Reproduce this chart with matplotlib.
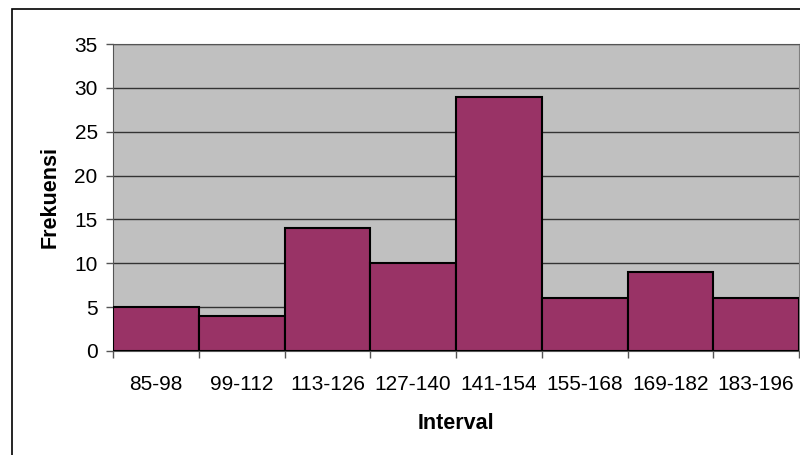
import matplotlib.pyplot as plt
from matplotlib.patches import Rectangle

plt.rcParams['font.family'] = ['Liberation Sans', 'DejaVu Sans']

# frequency table
intervals = ["85-98", "99-112", "113-126", "127-140", "141-154", "155-168", "169-182", "183-196"]
frekuensi = [5, 4, 14, 10, 29, 6, 9, 6]

fig = plt.figure(figsize=(8, 4.55), dpi=100)
ax = fig.add_axes([113 / 800, 104 / 455, 686 / 800, 307 / 455])
ax.set_facecolor("#C0C0C0")

x = range(len(intervals))
ax.bar(x, frekuensi, width=1.0, color="#993366", edgecolor="black", linewidth=1.5, zorder=3)

ax.set_xlim(-0.5, len(intervals) - 0.5)
ax.set_ylim(0, 35)
ax.set_yticks(range(0, 36, 5))
ax.yaxis.grid(True, color="#333333", linewidth=1.0, zorder=1)
ax.set_axisbelow(True)

# x ticks sit on the bin boundaries, labels in the middle of each bin
ax.set_xticks([i - 0.5 for i in range(len(intervals) + 1)])
ax.set_xticklabels([])
ax.set_xticks(list(x), minor=True)
ax.set_xticklabels(intervals, minor=True)
ax.tick_params(axis="x", which="major", length=5, color="#555555", width=1)
ax.tick_params(axis="x", which="minor", length=0, pad=17.5, labelsize=15)
ax.tick_params(axis="y", length=5, color="#555555", width=1, labelsize=15, pad=6)

ax.spines["top"].set_color("#555555")
ax.spines["right"].set_color("#808080")
ax.spines["left"].set_color("#555555")
ax.spines["bottom"].set_color("#555555")

ax.set_xlabel("Interval", fontsize=15.5, fontweight="bold", labelpad=13.5)
ax.set_ylabel("Frekuensi", fontsize=15.5, fontweight="bold", labelpad=10)

# chart border (runs off the right and bottom edges)
fig.patches.append(Rectangle((12 / 800, -10 / 455), 800 / 800, 456 / 455, transform=fig.transFigure,
                             fill=False, edgecolor="black", linewidth=1.2))

fig.savefig("out.png", dpi=100)
